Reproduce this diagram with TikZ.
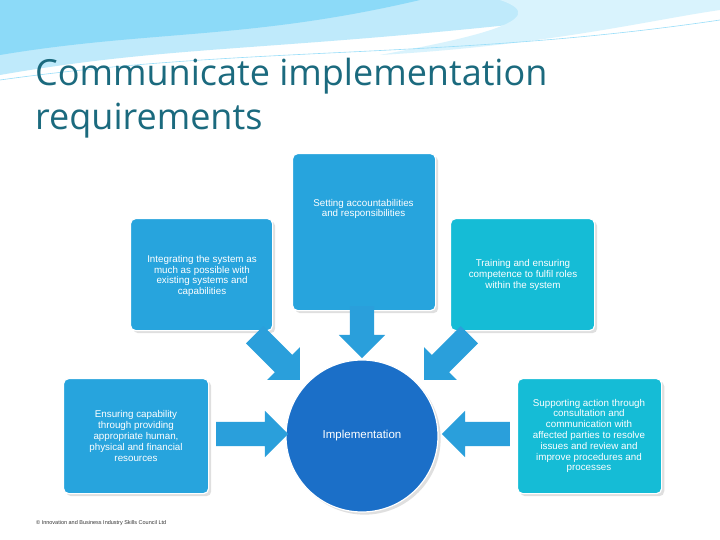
\documentclass[tikz,border=0pt]{standalone}
\usepackage{fontspec}
\setmainfont{Liberation Sans}
\newfontfamily\titlefont{Open Sans}
\usetikzlibrary{shapes.arrows,shadows}
\definecolor{ttl}{HTML}{1B6A7E}
\definecolor{bluebox}{HTML}{27A4DD}
\definecolor{cyanbox}{HTML}{15BCD6}
\definecolor{circ}{HTML}{1B6FC8}
\definecolor{arr}{HTML}{2A9FDB}
\begin{document}
\begin{tikzpicture}[x=1pt,y=-1pt,
  tx/.style={text=white,font=\fontsize{9.8}{10.8}\selectfont,align=center},
  box/.style={draw=white,line width=1.2pt,rounded corners=5pt,drop shadow={opacity=0.25}},
  barrow/.style={single arrow,fill=arr,draw=none,minimum height=#1,single arrow head extend=11pt,inner xsep=0pt,inner ysep=12pt,single arrow head indent=0pt}]
\useasboundingbox (0,0) rectangle (720,540);
\fill[white] (0,0) rectangle (720,540);
% top wave
\fill[cyan!25] (0,75) .. controls (200,40) and (300,55) .. (720,0) -- (0,0) -- cycle;
\fill[cyan!45] (0,55) .. controls (150,30) and (250,40) .. (420,0) -- (0,0) -- cycle;
\fill[cyan!15] (380,55) .. controls (550,45) and (650,20) .. (720,10) -- (720,0) -- (500,0) .. controls (560,20) and (460,40) .. (380,55);
\draw[cyan!40,line width=0.6pt] (0,80) .. controls (250,45) and (450,60) .. (720,20);
\node[anchor=north west,text=ttl,font=\titlefont\fontsize{36}{44}\selectfont,align=left,inner sep=0pt] (title) at (35,58) {Communicate implementation\\requirements};
% boxes
\node[box,fill=bluebox,minimum width=143pt,minimum height=157pt,anchor=north west] (top) at (292,153) {};
\node[tx] (tt) at (363.5,209) {Setting accountabilities\\and responsibilities};
\node[box,fill=bluebox,minimum width=142pt,minimum height=112pt,anchor=north west] (lu) at (130,218) {};
\node[tx] (lut) at (202,276) {Integrating the system as\\much as possible with\\existing systems and\\capabilities};
\node[box,fill=cyanbox,minimum width=144pt,minimum height=112pt,anchor=north west] (ru) at (450,218) {};
\node[tx] (rut) at (523,275) {Training and ensuring\\competence to fulfil roles\\within the system};
\node[box,fill=bluebox,minimum width=145pt,minimum height=115pt,anchor=north west] (ll) at (63,378) {};
\node[tx] (llt) at (136,436) {Ensuring capability\\through providing\\appropriate human,\\physical and financial\\resources};
\node[box,fill=cyanbox,minimum width=144pt,minimum height=115pt,anchor=north west] (rl) at (517,378) {};
\node[tx] (rlt) at (589,436) {Supporting action through\\consultation and\\communication with\\affected parties to resolve\\issues and review and\\improve procedures and\\processes};
\node[circle,fill=circ,draw=white,line width=1.2pt,minimum size=152pt,drop shadow={opacity=0.25},text=white,font=\fontsize{11.5}{12}\selectfont] (c) at (362,436) {Implementation};
% arrows
\node[barrow=52pt,rotate=-90] (a1) at (362,326) {};
\node[barrow=64pt,rotate=-45] (a2) at (273,353) {};
\node[barrow=64pt,rotate=-135] (a3) at (451,353) {};
\node[barrow=72pt,rotate=0] (a4) at (246,434) {};
\node[barrow=68pt,rotate=180] (a5) at (482,434) {};
\node[anchor=west,font=\fontsize{5.5}{6}\selectfont,text=black!80,inner sep=0pt] (copy) at (36,523) {© Innovation and Business Industry Skills Council Ltd};
\end{tikzpicture}
\end{document}
